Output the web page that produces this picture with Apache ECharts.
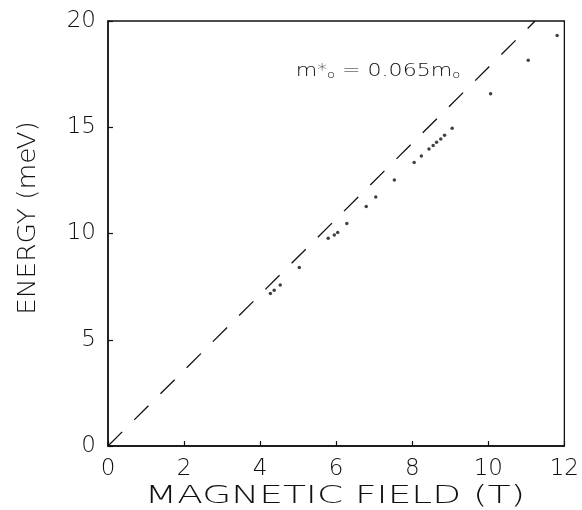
<!DOCTYPE html>
<html>
<head>
<meta charset="utf-8">
<script src="https://cdn.jsdelivr.net/npm/echarts@6/dist/echarts.min.js"></script>
<style>
html,body{margin:0;padding:0;background:#fff;}
#chart{width:582px;height:510px;}
</style>
</head>
<body>
<div id="chart"></div>
<script>
// Measured points: magnetic field (T) and energy (meV)
var fieldT = [4.27, 4.37, 4.53, 5.03, 5.79, 5.95, 6.04, 6.28, 6.79, 7.04, 7.53, 8.05, 8.24, 8.44, 8.55, 8.64, 8.75, 8.85, 9.05, 10.06, 11.05, 11.81];
var energyMeV = [7.18, 7.33, 7.58, 8.40, 9.78, 9.93, 10.05, 10.47, 11.27, 11.72, 12.52, 13.34, 13.65, 13.98, 14.14, 14.29, 14.45, 14.62, 14.95, 16.58, 18.15, 19.32];
// Dashed line for m* = 0.065 m0 (endpoints)
var lineField = [0, 11.23];
var lineEnergy = [0, 20];
var xTicks = [0, 2, 4, 6, 8, 10, 12];
var yTicks = [0, 5, 10, 15, 20];

var pts = fieldT.map(function (b, i) { return [b, energyMeV[i]]; });
var linePts = lineField.map(function (b, i) { return [b, lineEnergy[i]]; });

var labelFont = {fontFamily: 'DejaVu Sans', fontSize: 23, color: '#111', fontWeight: 200};
var chart = echarts.init(document.getElementById('chart'), null, {renderer: 'canvas'});
chart.setOption({
  animation: false,
  backgroundColor: '#fff',
  grid: {left: 108, right: 17, top: 21, bottom: 64, show: true, borderColor: '#111', borderWidth: 1.3, backgroundColor: 'transparent'},
  xAxis: {
    type: 'value', min: xTicks[0], max: xTicks[xTicks.length - 1], interval: 2,
    axisLine: {show: true, lineStyle: {color: '#111', width: 1.5}},
    axisTick: {show: true, inside: true, length: 5, lineStyle: {color: '#111', width: 1.2}},
    splitLine: {show: false},
    axisLabel: Object.assign({margin: 12}, labelFont)
  },
  yAxis: {
    type: 'value', min: yTicks[0], max: yTicks[yTicks.length - 1], interval: 5,
    axisLine: {show: true, lineStyle: {color: '#111', width: 1.5}},
    axisTick: {show: true, inside: true, length: 5, lineStyle: {color: '#111', width: 1.2}},
    splitLine: {show: false},
    axisLabel: Object.assign({margin: 12}, labelFont)
  },
  series: [
    {
      type: 'line', data: linePts, symbol: 'none', silent: true,
      lineStyle: {color: '#111', width: 1.3, type: [20, 17]}
    },
    {
      type: 'scatter', data: pts, symbol: 'circle', symbolSize: 3.5,
      itemStyle: {color: '#111'}
    }
  ],
  graphic: [
    {
      type: 'text', x: 335, y: 496, scaleX: 1.5,
      style: {text: 'MAGNETIC FIELD (T)', font: '200 25px "DejaVu Sans"', fill: '#111',
        align: 'center', verticalAlign: 'middle', textAlign: 'center', textVerticalAlign: 'middle'}
    },
    {
      type: 'text', x: 29, y: 218, rotation: Math.PI / 2, scaleX: 1.1,
      style: {text: 'ENERGY (meV)', font: '200 24px "DejaVu Sans"', fill: '#111',
        align: 'center', verticalAlign: 'middle', textAlign: 'center', textVerticalAlign: 'middle'}
    },
    {
      type: 'text', x: 378, y: 72, scaleX: 1.3,
      style: {
        text: 'm{sup|*}{sub|o} = 0.065m{sub|o}',
        font: '300 17px "DejaVu Sans"', fill: '#111',
        align: 'center', verticalAlign: 'middle', textAlign: 'center', textVerticalAlign: 'middle',
        rich: {
          sup: {fontSize: 15, fontFamily: 'DejaVu Sans', fontWeight: 300, verticalAlign: 'top', lineHeight: 12, fill: '#111'},
          sub: {fontSize: 10, fontFamily: 'DejaVu Sans', fontWeight: 300, verticalAlign: 'bottom', lineHeight: 8, fill: '#111'}
        }
      }
    }
  ]
});
</script>
</body>
</html>
